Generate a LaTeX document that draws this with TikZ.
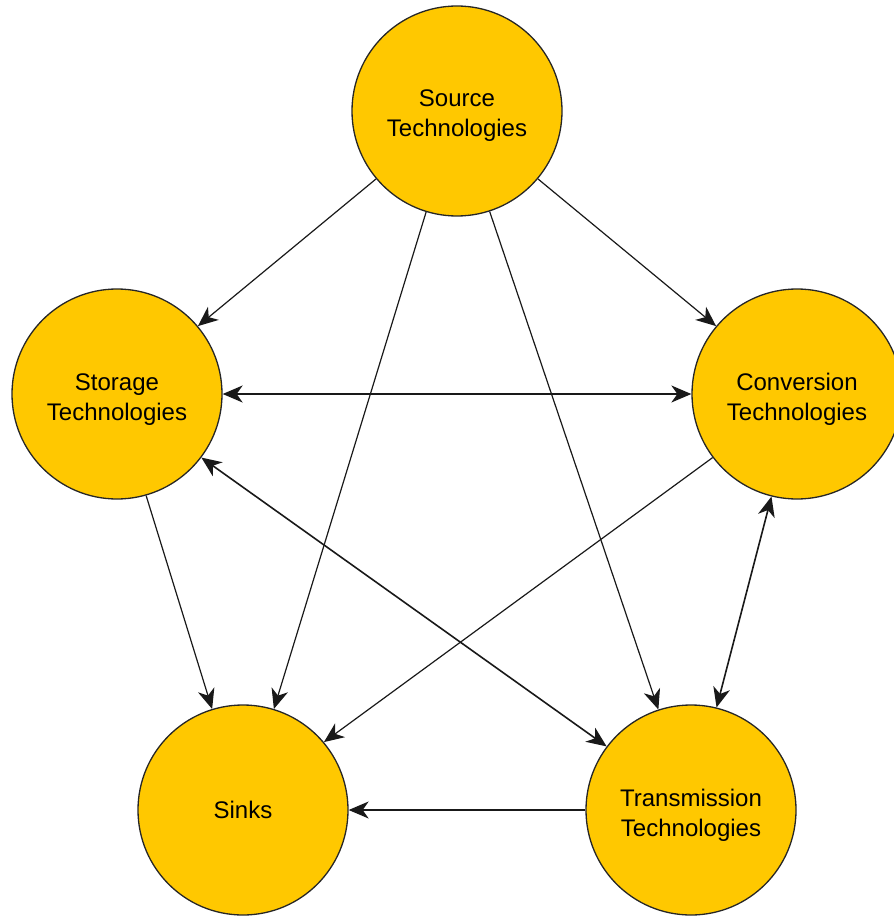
\documentclass[tikz,border=0pt]{standalone}
\usepackage{fontspec}
\setmainfont{Liberation Sans}
\usetikzlibrary{arrows.meta}
\definecolor{fillc}{HTML}{FFC800}
\newcommand{\twolines}[2]{\raisebox{-5pt}[\height][\depth]{\begin{tabular}{@{}c@{}}#1\\#2\end{tabular}}}
\begin{document}
\begin{tikzpicture}[x=1pt,y=-1pt,
  tech/.style={circle, draw=black!85, line width=1.3pt, fill=fillc, minimum size=210pt, inner sep=0pt, align=center, font=\fontsize{24}{30}\selectfont},
  tip/.tip={Stealth[length=20pt,width=17pt,inset=6pt]},
  arr/.style={-tip, line width=1.2pt, draw=black!90},
  biarr/.style={tip-tip, line width=1.6pt, draw=black!90}]
\useasboundingbox (0,0) rectangle (893,917);
\node[tech] (src) at (457,111) {\twolines{Source}{Technologies}};
\node[tech] (sto) at (117,394) {\twolines{Storage}{Technologies}};
\node[tech] (con) at (797,394) {\twolines{Conversion}{Technologies}};
\node[tech] (snk) at (243,810) {Sinks};
\node[tech] (tra) at (691,810) {\twolines{Transmission}{Technologies}};
\draw[arr] (src.220) -- (sto.40);
\draw[arr] (src.320) -- (con.140);
\draw[arr] (src.253) -- (snk.73);
\draw[arr] (src.288) -- (tra.108);
\draw[biarr] (sto.0) -- (con.180);
\draw[biarr] (sto.323) -- (tra.143);
\draw[arr] (sto.286) -- (snk.107);
\draw[arr] (con.217) -- (snk.40);
\draw[biarr] (con.256) -- (tra.76);
\draw[arr] (tra.180) -- (snk.0);
\end{tikzpicture}
\end{document}
